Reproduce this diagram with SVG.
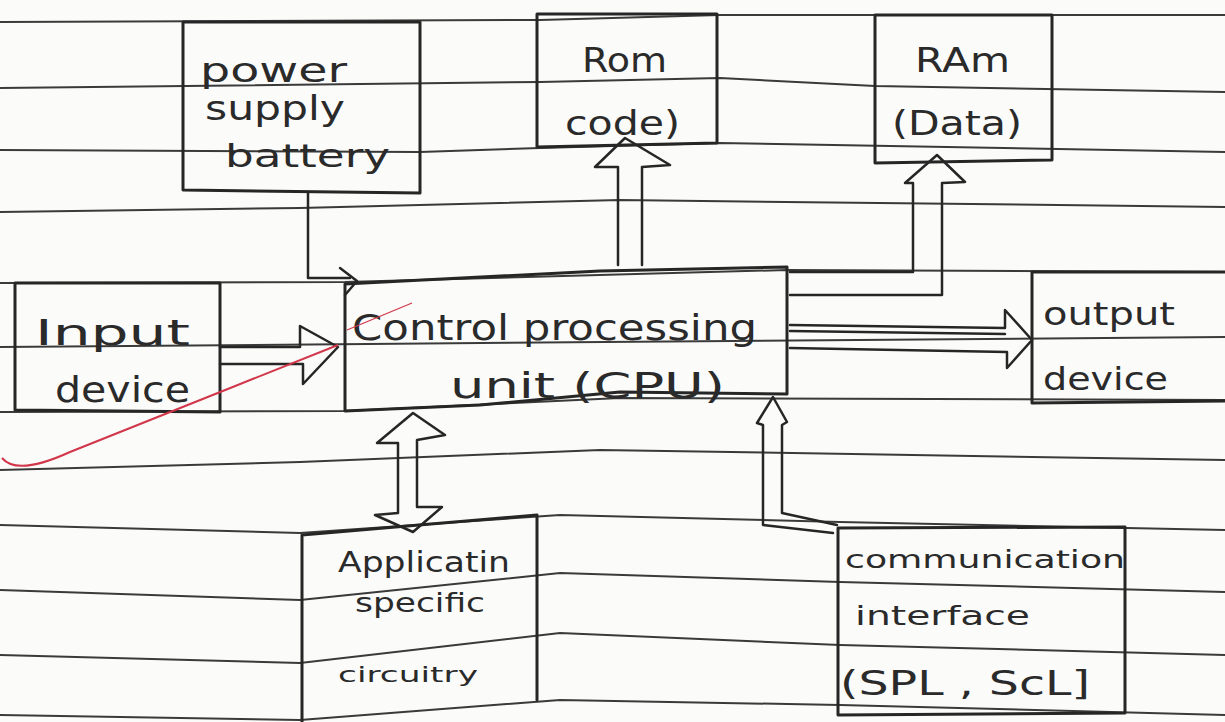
<svg xmlns="http://www.w3.org/2000/svg" width="1225" height="722" viewBox="0 0 1225 722">
<style>
.paper{fill:none;stroke:#3a3a3a;stroke-width:2}
.box{fill:none;stroke:#262626;stroke-width:3;stroke-linejoin:round;stroke-linecap:round}
.conn{fill:none;stroke:#262626;stroke-width:2.5;stroke-linejoin:round;stroke-linecap:round}
.t{font-family:"DejaVu Sans","Liberation Sans",sans-serif;fill:#2a2a2a}
</style>
<rect width="1225" height="722" fill="#fbfbfa"/>
<g id="paper-lines">
<path class="paper" d="M0 22 L540 20 L720 15 L1225 15"/>
<path class="paper" d="M0 88 L540 82 L720 78 L875 86 L1225 92"/>
<path class="paper" d="M0 150 L420 152 L540 148 L720 143 L1225 152"/>
<path class="paper" d="M0 212 L300 208 L620 200 L1225 207"/>
<path class="paper" d="M0 283 L345 282 L787 270 L1225 272"/>
<path class="paper" d="M0 347 L1225 337"/>
<path class="paper" d="M0 412 L345 411 L620 398 L1225 400"/>
<path class="paper" d="M0 470 L300 462 L600 450 L1225 460"/>
<path class="paper" d="M0 525 L300 533 L560 515 L840 522 L1225 530"/>
<path class="paper" d="M0 590 L300 600 L560 573 L840 582 L1225 592"/>
<path class="paper" d="M0 655 L300 663 L560 633 L840 645 L1225 655"/>
<path class="paper" d="M0 715 L300 720 L560 700 L840 705 L1225 715"/>
</g>
<g id="power">
<path class="box" d="M183 22 L420 22 L420 193 L183 190 Z"/>
<text class="t" x="200" y="82" font-size="34" textLength="147" lengthAdjust="spacingAndGlyphs">power</text>
<text class="t" x="205" y="120" font-size="34" textLength="140" lengthAdjust="spacingAndGlyphs">supply</text>
<text class="t" x="225" y="167" font-size="32" textLength="165" lengthAdjust="spacingAndGlyphs">battery</text>
</g>
<g id="rom">
<path class="box" d="M537 14 L717 14 L717 143 L537 147 Z"/>
<text class="t" x="582" y="72" font-size="34" textLength="85" lengthAdjust="spacingAndGlyphs">Rom</text>
<text class="t" x="565" y="135" font-size="34" textLength="115" lengthAdjust="spacingAndGlyphs">code)</text>
</g>
<g id="ram">
<path class="box" d="M875 15 L1052 15 L1052 160 L875 163 Z"/>
<text class="t" x="915" y="72" font-size="34" textLength="95" lengthAdjust="spacingAndGlyphs">RAm</text>
<text class="t" x="892" y="135" font-size="34" textLength="130" lengthAdjust="spacingAndGlyphs">(Data)</text>
</g>
<g id="cpu">
<path class="box" d="M345 284 L600 271 L787 267 L787 394 L620 392 L480 405 L345 411 Z"/>
<text class="t" x="352" y="340" font-size="36" textLength="405" lengthAdjust="spacingAndGlyphs">Control processing</text>
<text class="t" x="450" y="398" font-size="36" textLength="275" lengthAdjust="spacingAndGlyphs">unit (CPU)</text>
</g>
<g id="input">
<path class="box" d="M15 283 L220 283 L220 412 L15 410 Z"/>
<text class="t" x="35" y="345" font-size="36" textLength="155" lengthAdjust="spacingAndGlyphs">Input</text>
<text class="t" x="55" y="402" font-size="36" textLength="135" lengthAdjust="spacingAndGlyphs">device</text>
</g>
<g id="output">
<path class="box" d="M1225 272 L1032 272 L1032 403 L1225 401"/>
<text class="t" x="1043" y="325" font-size="32" textLength="132" lengthAdjust="spacingAndGlyphs">output</text>
<text class="t" x="1043" y="390" font-size="32" textLength="125" lengthAdjust="spacingAndGlyphs">device</text>
</g>
<g id="application">
<path class="box" d="M302 722 L302 535 L537 515 L537 700"/>
<text class="t" x="338" y="572" font-size="28" textLength="172" lengthAdjust="spacingAndGlyphs">Applicatin</text>
<text class="t" x="355" y="612" font-size="26" textLength="130" lengthAdjust="spacingAndGlyphs">specific</text>
<text class="t" x="338" y="682" font-size="22" textLength="140" lengthAdjust="spacingAndGlyphs">circuitry</text>
</g>
<g id="communication">
<path class="box" d="M838 528 L1125 527 L1125 713 L838 715 Z"/>
<text class="t" x="845" y="568" font-size="24" textLength="280" lengthAdjust="spacingAndGlyphs">communication</text>
<text class="t" x="855" y="625" font-size="26" textLength="175" lengthAdjust="spacingAndGlyphs">interface</text>
<text class="t" x="840" y="695" font-size="34" textLength="250" lengthAdjust="spacingAndGlyphs">(SPL , ScL]</text>
</g>
<g id="connectors">
<path class="conn" d="M308 193 L308 278 L350 278"/>
<path class="conn" d="M340 268 L357 281 L345 295"/>
<path class="conn" d="M220 347 L300 347 L300 326 L338 347 L303 384 L303 364 L220 364"/>
<path class="conn" d="M618 265 L618 167 L595 167 L625 138 L670 165 L642 167 L642 265"/>
<path class="conn" d="M790 272 L913 272 L913 183 L905 183 L937 155 L965 182 L942 183 L942 295 L790 295"/>
<path class="conn" d="M790 325 L1005 328 L1005 310 L1032 340 L1007 368 L1007 352 L790 348"/>
<path class="conn" d="M790 331 L1005 334" stroke-width="1.5"/>
<path class="conn" d="M398 443 L377 443 L413 413 L445 435 L417 440 L417 507 L442 507 L413 532 L375 515 L398 513 Z"/>
<path class="conn" d="M833 533 L763 525 L763 425 L757 423 L773 397 L787 422 L782 425 L782 513 L837 525"/>
</g>
<g id="pen-mark">
<path d="M2 458 C12 470 35 468 70 452 C150 420 250 380 338 345" fill="none" stroke="#d2364a" stroke-width="2"/>
<path d="M347 330 L412 303" fill="none" stroke="#d2364a" stroke-width="1.2"/>
</g>
</svg>
